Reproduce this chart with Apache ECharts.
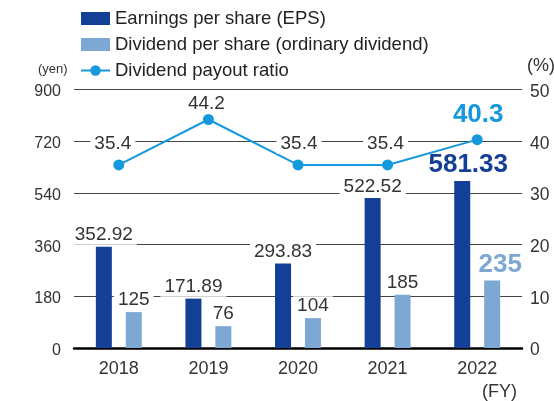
<!DOCTYPE html>
<html><head><meta charset="utf-8">
<script src="https://cdn.jsdelivr.net/npm/echarts@6/dist/echarts.min.js"></script>
<style>html,body{margin:0;padding:0;background:#fff}#c{width:554px;height:401px}</style>
</head><body><div id="c"></div>
<script>
var categories = ['2018', '2019', '2020', '2021', '2022'];
var eps = [352.92, 171.89, 293.83, 522.52, 581.33];
var dividend = [125, 76, 104, 185, 235];
var payout = [35.4, 44.2, 35.4, 35.4, 40.3];
var leftTicks = [0, 180, 360, 540, 720, 900];
var rightTicks = [0, 10, 20, 30, 40, 50];

var FONT = '"Liberation Sans", Arial, Helvetica, sans-serif';
var C_EPS = '#143f96', C_DIV = '#7ea8d4', C_LINE = '#1599dc', TXT = '#333';
var last = categories.length - 1;
var LEG = ['Earnings per share (EPS)', 'Dividend per share (ordinary dividend)', 'Dividend payout ratio'];

var baseLabel = {show:true, position:'top', color:TXT, fontFamily:FONT, fontSize:19,
  backgroundColor:'#fff', padding:[0,4]};
var bigLabel = {fontSize:26, fontWeight:'bold', distance:3, padding:[0,2]};

var epsData = eps.map(function(v,i){
  var d = {value:v};
  if (i === last) d.label = Object.assign({color:C_EPS, offset:[6,0]}, bigLabel);
  return d;
});
var divData = dividend.map(function(v,i){
  var d = {value:v};
  if (i === last) d.label = Object.assign({color:C_DIV, offset:[8,0]}, bigLabel);
  return d;
});
var lineLabelDist = [6, 1, 6, 6, 6];
var lineLabelDx = [-6, -2, 1, -2, 1];
var payData = payout.map(function(v,i){
  var d = {value:v, label:{distance: lineLabelDist[i], offset:[lineLabelDx[i], 0]}};
  if (i === last) d.label = Object.assign({}, bigLabel, {color:C_LINE, distance:lineLabelDist[i], offset:[lineLabelDx[i],0]});
  return d;
});

var chart = echarts.init(document.getElementById('c'), null, {renderer:'canvas'});
chart.setOption({
  animation:false,
  textStyle:{fontFamily:FONT},
  legend:{
    orient:'vertical', left:75, top:4, itemWidth:29, itemHeight:13, itemGap:7,
    textStyle:{fontSize:18.5, color:'#222', fontFamily:FONT},
    data:[{name:LEG[0], icon:'rect'}, {name:LEG[1], icon:'rect'}, {name:LEG[2]}]
  },
  grid:{left:74, right:32, top:89.5, bottom:53},
  xAxis:{
    type:'category', data:categories,
    axisLine:{lineStyle:{color:'#000', width:2.5}},
    axisTick:{show:false},
    axisLabel:{fontSize:18, color:TXT, margin:12, fontFamily:FONT}
  },
  yAxis:[{
    type:'value', min:leftTicks[0], max:leftTicks[leftTicks.length-1], interval:leftTicks[1]-leftTicks[0],
    axisLine:{show:false}, axisTick:{show:false},
    axisLabel:{fontSize:16, color:TXT, margin:13, fontFamily:FONT, verticalAlign:'top', lineHeight:5},
    splitLine:{lineStyle:{color:'#444', width:1}}
  },{
    type:'value', min:rightTicks[0], max:rightTicks[rightTicks.length-1], interval:rightTicks[1]-rightTicks[0],
    axisLine:{show:false}, axisTick:{show:false},
    axisLabel:{fontSize:17.5, color:TXT, margin:8, fontFamily:FONT, verticalAlign:'top', lineHeight:5},
    splitLine:{show:false}
  }],
  series:[{
    name:LEG[0], type:'bar', data:epsData, barWidth:16, barGap:'87%',
    itemStyle:{color:C_EPS},
    label:Object.assign({}, baseLabel, {distance:2, formatter:function(p){return p.value.toFixed(2);}})
  },{
    name:LEG[1], type:'bar', data:divData, barWidth:16,
    itemStyle:{color:C_DIV},
    label:Object.assign({}, baseLabel, {distance:3})
  },{
    name:LEG[2], type:'line', yAxisIndex:1, data:payData, z:5,
    symbol:'circle', symbolSize:11,
    lineStyle:{color:C_LINE, width:2}, itemStyle:{color:C_LINE},
    label:Object.assign({}, baseLabel, {formatter:function(p){return p.value.toFixed(1);}})
  }],
  graphic:[
    {type:'text', left:38, top:63, style:{text:'(yen)', fontSize:13, fill:TXT, fontFamily:FONT}},
    {type:'text', left:527, top:57, style:{text:'(%)', fontSize:18, fill:TXT, fontFamily:FONT}},
    {type:'text', left:482, top:383, style:{text:'(FY)', fontSize:18, fill:TXT, fontFamily:FONT}}
  ]
});
</script></body></html>
